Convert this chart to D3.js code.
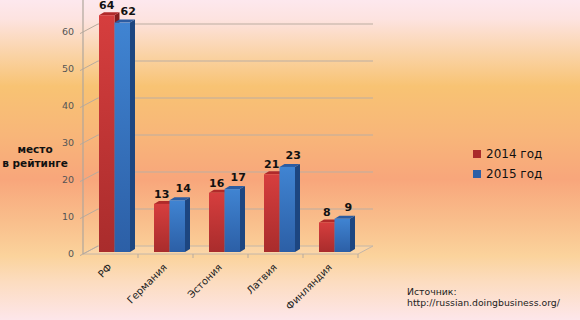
<!DOCTYPE html>
<html>
<head>
<meta charset="utf-8">
<script src="https://cdn.jsdelivr.net/npm/d3@7"></script>
<style>
  html, body { margin: 0; padding: 0; }
  svg { display: block; }
</style>
</head>
<body>
<div id="chart-container"></div>
<script>
/**************************************************
 * Data
 **************************************************/

// Doing Business rank by country
const categories = ["РФ", "Германия", "Эстония", "Латвия", "Финляндия"];
const series = ["2014 год", "2015 год"];
const values2014 = [64, 13, 16, 21, 8];
const values2015 = [62, 14, 17, 23, 9];
const yTicks = [0, 10, 20, 30, 40, 50, 60];
const axisTitle = ["место", "в рейтинге"];
const sourceLines = ["Источник:", "http://russian.doingbusiness.org/"];

const seriesValues = [values2014, values2015];

/**************************************************
 * Layout
 **************************************************/

const width = 580, height = 320;
const x0 = 83, x1 = 358;          // front edge of the floor
const floorY = 254;
const depthX = 15, depthY = -8;   // back wall offset
const barShiftX = 7, barShiftY = -2; // bars stand mid-depth
const barDX = 5, barDY = -3;      // bar thickness

const faces = [
  { front: ["#d63e3e", "#a92c2c"], top: "#b02a2a", side: "#861c1c" },
  { front: ["#4084d2", "#2c5fa6"], top: "#2b5ca2", side: "#1d4680" }
];

/**************************************************
 * Rendering
 **************************************************/

const svg = d3.select("#chart-container")
  .append("svg")
  .attr("width", width)
  .attr("height", height);

const defs = svg.append("defs");

const bg = defs.append("linearGradient")
  .attr("id", "bg")
  .attr("x1", 0).attr("y1", 0).attr("x2", 0).attr("y2", 1);
[
  [0, "#fde8ee"], [0.06, "#fde3e0"], [0.17, "#fad3a6"], [0.27, "#f8c373"],
  [0.42, "#f8b679"], [0.56, "#f8a67b"], [0.7, "#f9c08d"], [0.8, "#fbd39c"],
  [0.88, "#fcdcbf"], [1, "#fde6ea"]
].forEach(s => bg.append("stop").attr("offset", s[0]).attr("stop-color", s[1]));

faces.forEach((f, i) => {
  const g = defs.append("linearGradient")
    .attr("id", "front" + i)
    .attr("x1", 0).attr("y1", 0).attr("x2", 0).attr("y2", 1);
  g.append("stop").attr("offset", 0).attr("stop-color", f.front[0]);
  g.append("stop").attr("offset", 1).attr("stop-color", f.front[1]);
});

svg.append("rect")
  .attr("width", width)
  .attr("height", height)
  .attr("fill", "url(#bg)");

const y = d3.scaleLinear().domain([0, 70]).range([floorY, floorY - 259]);
const x = d3.scaleBand().domain(categories).range([x0, x1]);
const xs = d3.scaleBand().domain(series).range([9, 40]);

// back wall gridlines
svg.append("g")
  .selectAll("line")
  .data(yTicks.slice(1))
  .enter()
  .append("line")
  .attr("x1", x0 + depthX)
  .attr("x2", x1 + depthX)
  .attr("y1", d => y(d) + depthY)
  .attr("y2", d => y(d) + depthY)
  .attr("stroke", "#bcaea2")
  .attr("stroke-width", 1.2);

// floor
svg.append("path")
  .attr("d", `M${x0},${floorY}L${x1},${floorY}L${x1 + depthX},${floorY + depthY}L${x0 + depthX},${floorY + depthY}Z`)
  .attr("fill", "rgba(255,255,255,0.12)")
  .attr("stroke", "#c4b6a8")
  .attr("stroke-width", 1);

// diagonal y ticks
svg.append("g")
  .selectAll("line")
  .data(yTicks)
  .enter()
  .append("line")
  .attr("x1", x0 - 3)
  .attr("x2", x0 + depthX)
  .attr("y1", d => y(d) + 1.6)
  .attr("y2", d => y(d) + depthY)
  .attr("stroke", "#b8ab9e")
  .attr("stroke-width", 1);

// front y axis line
svg.append("line")
  .attr("x1", x0).attr("x2", x0)
  .attr("y1", 0).attr("y2", floorY)
  .attr("stroke", "#b0a69c")
  .attr("stroke-width", 1.2);

svg.append("g")
  .selectAll("text")
  .data(yTicks)
  .enter()
  .append("text")
  .attr("x", 74)
  .attr("y", d => y(d))
  .attr("dy", "0.35em")
  .attr("text-anchor", "end")
  .attr("font-family", "DejaVu Sans")
  .attr("font-size", "9.5px")
  .attr("fill", "#555")
  .text(d => d);

// category ticks
svg.append("g")
  .selectAll("line")
  .data(categories)
  .enter()
  .append("line")
  .attr("x1", d => x(d) + x.bandwidth())
  .attr("x2", d => x(d) + x.bandwidth())
  .attr("y1", floorY)
  .attr("y2", floorY + 4)
  .attr("stroke", "#b8ab9e");

// bars
const bars = [];
categories.forEach((c, ci) => {
  series.forEach((s, si) => {
    bars.push({ cat: c, ser: s, si: si, value: seriesValues[si][ci] });
  });
});

svg.append("g")
  .selectAll("g.bar")
  .data(bars)
  .enter()
  .append("g")
  .attr("class", "bar")
  .each(function(d) {
    const g = d3.select(this);
    const bx = x(d.cat) + xs(d.ser) + barShiftX;
    const bw = xs.bandwidth();
    const top = y(d.value) + barShiftY;
    const bottom = floorY + barShiftY;
    g.append("path")
      .attr("d", `M${bx + bw},${top}L${bx + bw + barDX},${top + barDY}L${bx + bw + barDX},${bottom + barDY}L${bx + bw},${bottom}Z`)
      .attr("fill", faces[d.si].side);
    g.append("path")
      .attr("d", `M${bx},${top}L${bx + barDX},${top + barDY}L${bx + bw + barDX},${top + barDY}L${bx + bw},${top}Z`)
      .attr("fill", faces[d.si].top);
    g.append("rect")
      .attr("x", bx)
      .attr("y", top)
      .attr("width", bw)
      .attr("height", bottom - top)
      .attr("fill", `url(#front${d.si})`);
  });

// value labels
svg.append("g")
  .selectAll("text")
  .data(bars)
  .enter()
  .append("text")
  .attr("x", d => x(d.cat) + xs(d.ser) + barShiftX + xs.bandwidth() / 2 + (d.si ? 6 : 0))
  .attr("y", d => y(d.value) + barShiftY - (d.si ? 8 : 6))
  .attr("text-anchor", "middle")
  .attr("font-family", "DejaVu Sans")
  .attr("font-weight", "bold")
  .attr("font-size", "11px")
  .attr("fill", "#111")
  .text(d => d.value);

// category labels
svg.append("g")
  .selectAll("text")
  .data(categories)
  .enter()
  .append("text")
  .attr("transform", d => `translate(${x(d) + x.bandwidth() / 2 + 2},${floorY + 14}) rotate(-45)`)
  .attr("text-anchor", "end")
  .attr("font-family", "DejaVu Sans")
  .attr("font-size", "10px")
  .attr("fill", "#222")
  .text(d => d);

// axis title
svg.append("g")
  .selectAll("text")
  .data(axisTitle)
  .enter()
  .append("text")
  .attr("x", 35)
  .attr("y", (d, i) => 153 + i * 14)
  .attr("text-anchor", "middle")
  .attr("font-family", "DejaVu Sans")
  .attr("font-weight", "bold")
  .attr("font-size", "10.5px")
  .attr("fill", "#111")
  .text(d => d);

// legend
const legend = svg.append("g")
  .attr("transform", "translate(473,150)");
series.forEach((s, i) => {
  const g = legend.append("g").attr("transform", `translate(0, ${i * 20})`);
  g.append("rect")
    .attr("width", 8)
    .attr("height", 8)
    .attr("fill", faces[i].front[1]);
  g.append("text")
    .attr("x", 13)
    .attr("y", 8)
    .attr("font-family", "DejaVu Sans")
    .attr("font-size", "12px")
    .attr("fill", "#111")
    .text(s);
});

// source note
svg.append("g")
  .selectAll("text")
  .data(sourceLines)
  .enter()
  .append("text")
  .attr("x", 407)
  .attr("y", (d, i) => 295 + i * 10.5)
  .attr("font-family", "DejaVu Sans")
  .attr("font-size", "9.3px")
  .attr("fill", "#222")
  .text(d => d);
</script>
</body>
</html>
